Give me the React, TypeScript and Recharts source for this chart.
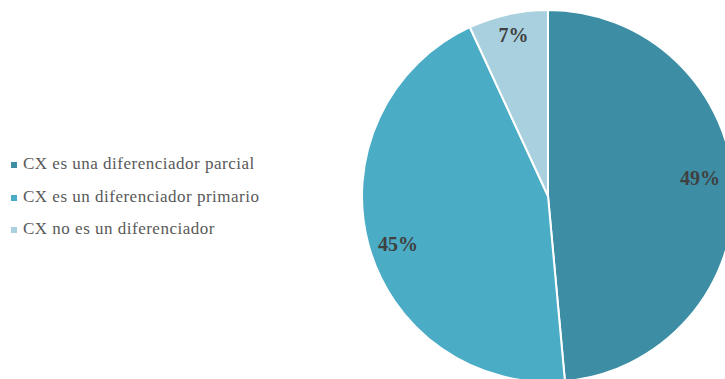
import React from "react";
import { PieChart, Pie, Cell } from "recharts";

const categories = [
  "CX es una diferenciador parcial",
  "CX es un diferenciador primario",
  "CX no es un diferenciador",
];
const values = [48.55, 44.55, 6.9];
const colors = ["#3d8ea4", "#4bacc6", "#a9d0de"];

const data = categories.map((name, i) => ({ name, value: values[i] }));

// label nudges (style only), mimicking Excel's best-fit placement
const labelNudge = [
  { dx: -4, dy: -11 },
  { dx: 1, dy: 7 },
  { dx: -1, dy: -8 },
];

const RAD = Math.PI / 180;

const renderLabel = (props: any) => {
  const { cx, cy, midAngle, outerRadius, percent, index } = props;
  const r = outerRadius * 0.84;
  const n = labelNudge[index] || { dx: 0, dy: 0 };
  const x = cx + r * Math.cos(-midAngle * RAD) + n.dx;
  const y = cy + r * Math.sin(-midAngle * RAD) + n.dy;
  return (
    <text
      x={x}
      y={y}
      textAnchor="middle"
      dominantBaseline="central"
      fill="#404040"
      fontFamily="'Liberation Serif', serif"
      fontWeight="bold"
      fontSize={20}
    >
      {`${Math.round(percent * 100)}%`}
    </text>
  );
};

export default function App() {
  return (
    <div style={{ position: "absolute", left: 0, top: 0, width: 725, height: 379, background: "#fff" }}>
      <PieChart width={725} height={379} margin={{ top: 0, right: 0, bottom: 0, left: 0 }}>
        <Pie
          data={data}
          dataKey="value"
          nameKey="name"
          cx={548}
          cy={196}
          outerRadius={186}
          startAngle={90}
          endAngle={-270}
          stroke="#ffffff"
          strokeWidth={2}
          label={renderLabel}
          labelLine={false}
          isAnimationActive={false}
        >
          {data.map((d, i) => (
            <Cell key={d.name} fill={colors[i]} />
          ))}
        </Pie>
      </PieChart>
      <div style={{ position: "absolute", left: 11, top: 154 }}>
        {categories.map((c, i) => (
          <div
            key={c}
            style={{
              height: 32.5,
              display: "flex",
              alignItems: "flex-start",
              fontFamily: "'Liberation Serif', serif",
              fontSize: 17,
              letterSpacing: 0.5,
              color: "#595959",
              lineHeight: "20px",
              whiteSpace: "nowrap",
            }}
          >
            <span
              style={{
                display: "inline-block",
                width: 6,
                height: 6,
                background: colors[i],
                marginTop: 8,
                marginRight: 6,
              }}
            />
            <span>{c}</span>
          </div>
        ))}
      </div>
    </div>
  );
}
